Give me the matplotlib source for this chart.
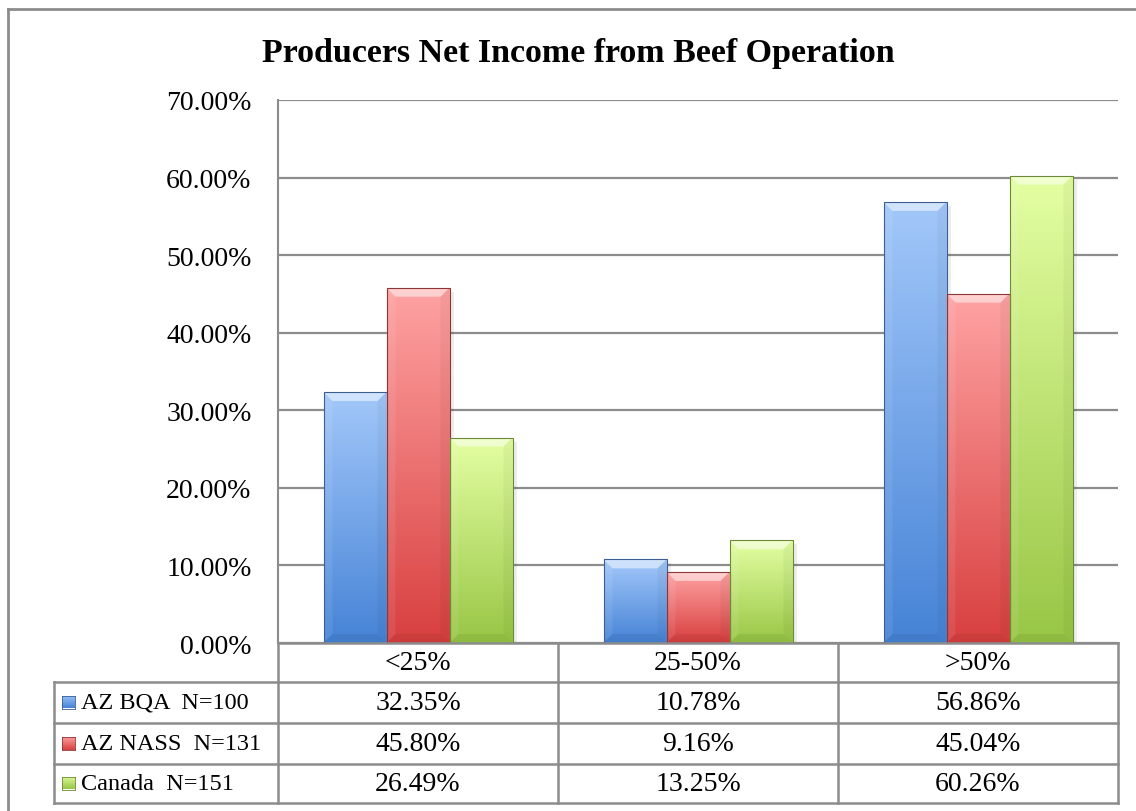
import numpy as np
import matplotlib
matplotlib.use("Agg")
import matplotlib.pyplot as plt
from matplotlib.patches import Rectangle, Polygon
from matplotlib.lines import Line2D
from matplotlib.colors import LinearSegmentedColormap

# data
categories = ["<25%", "25-50%", ">50%"]
series_names = ["AZ BQA  N=100", "AZ NASS  N=131", "Canada  N=151"]
az_bqa = [32.35, 10.78, 56.86]
az_nass = [45.80, 9.16, 45.04]
canada = [26.49, 13.25, 60.26]
yticks = [0, 10, 20, 30, 40, 50, 60, 70]

# (top colour, bottom colour, edge colour)
styles = [
    ("#a3c8fa", "#4683d6", "#3b5f92"),
    ("#ffa3a3", "#d83f3f", "#8e3636"),
    ("#e4ffa3", "#98c645", "#6b8a35"),
]

W, H = 1136, 812
plt.rcParams['font.family'] = ['Liberation Serif', 'DejaVu Serif']
fig = plt.figure(figsize=(W / 100, H / 100), dpi=100)
GRID = "#8c8c8c"
FS = 20


def fx(x):
    return x / W


def fy(y):
    return 1 - y / H


# plot area in pixels
L, R, T, B = 278, 1118, 101, 644
ax = fig.add_axes([fx(L), fy(B), (R - L) / W, (B - T) / H])
ax.set_xlim(-0.5, 2.5)
ax.set_ylim(0, 70)
ax.set_yticks(yticks)
ax.set_yticklabels(["%.2f%%" % v for v in yticks], fontsize=FS)
ax.tick_params(axis='y', length=0, pad=19)
ax.set_xticks([])
for s in ['top', 'right', 'bottom']:
    ax.spines[s].set_visible(False)
ax.spines['left'].set_color(GRID)
ax.spines['left'].set_linewidth(1.5)
ax.yaxis.grid(True, color=GRID, linewidth=1.6)
ax.set_axisbelow(True)

px_x = 3.0 / (R - L)   # data units per pixel (x)
px_y = 70.0 / (B - T)  # data units per pixel (y)

width = 0.225
x = np.arange(len(categories))
all_vals = [az_bqa, az_nass, canada]
for i, (vals, (ctop, cbot, cedge)) in enumerate(zip(all_vals, styles)):
    cmap = LinearSegmentedColormap.from_list("g%d" % i, [cbot, ctop])
    grad = np.linspace(0, 1, 256).reshape(-1, 1)
    bars = ax.bar(x + (i - 1) * width, vals, width, facecolor='none',
                  edgecolor=cedge, linewidth=0.8, zorder=3)
    for b in bars:
        x0, y0 = b.get_x(), b.get_y()
        w, h = b.get_width(), b.get_height()
        # soft shadow to the right
        ax.add_patch(Rectangle((x0 + 4 * px_x, y0), w, h - 4 * px_y, facecolor='#000000',
                               alpha=0.07, edgecolor='none', zorder=2))
        im = ax.imshow(grad, cmap=cmap, origin='lower', aspect='auto',
                       extent=(x0, x0 + w, y0, y0 + h), zorder=2.5)
        im.set_clip_path(b)
        # bevel: light top, faint sides, darker bottom
        bw, bh = 9 * px_x, 9 * px_y
        top = y0 + h
        ax.add_patch(Polygon([(x0, top), (x0 + w, top), (x0 + w - bw, top - bh), (x0 + bw, top - bh)],
                             closed=True, facecolor='white', alpha=0.5, edgecolor='none', zorder=2.6))
        ax.add_patch(Polygon([(x0, top), (x0 + bw, top - bh), (x0 + bw, y0 + bh), (x0, y0)],
                             closed=True, facecolor='white', alpha=0.08, edgecolor='none', zorder=2.6))
        ax.add_patch(Polygon([(x0 + w, top), (x0 + w - bw, top - bh), (x0 + w - bw, y0 + bh), (x0 + w, y0)],
                             closed=True, facecolor='black', alpha=0.04, edgecolor='none', zorder=2.6))
        ax.add_patch(Polygon([(x0, y0), (x0 + w, y0), (x0 + w - bw, y0 + bh), (x0 + bw, y0 + bh)],
                             closed=True, facecolor='black', alpha=0.06, edgecolor='none', zorder=2.6))
ax.set_xlim(-0.5, 2.5)
ax.set_ylim(0, 70)

fig.text(fx(578), fy(62), "Producers Net Income from Beef Operation",
         ha='center', va='baseline', fontsize=24.5, fontweight='bold')

# outer border
fig.add_artist(Line2D([fx(8), fx(8)], [fy(10), fy(812)], color=GRID, linewidth=2))
fig.add_artist(Line2D([fx(8), fx(1136)], [fy(10), fy(10)], color=GRID, linewidth=2))

# data table
cols = [L, 558, 838, R]
rows = [B, 683, 724, 765, 804]
TL = 54


def hline(x0, x1, y):
    fig.add_artist(Line2D([fx(x0), fx(x1)], [fy(y), fy(y)], color=GRID, linewidth=1.8))


def vline(xp, y0, y1):
    fig.add_artist(Line2D([fx(xp), fx(xp)], [fy(y0), fy(y1)], color=GRID, linewidth=1.8))


hline(L, R, rows[0])
for y in rows[1:]:
    hline(TL, R, y)
for xp in cols:
    vline(xp, rows[0], rows[-1])
vline(TL, rows[1], rows[-1])

for j, c in enumerate(categories):
    fig.text(fx((cols[j] + cols[j + 1]) / 2), fy((rows[0] + rows[1]) / 2), c,
             ha='center', va='center', fontsize=FS)

for i, (name, vals) in enumerate(zip(series_names, all_vals)):
    yc = (rows[i + 1] + rows[i + 2]) / 2
    ctop, cbot, cedge = styles[i]
    sq = fig.add_axes([fx(62), fy(yc + 6), 13 / W, 13 / H])
    sq.imshow(np.linspace(0, 1, 32).reshape(-1, 1),
              cmap=LinearSegmentedColormap.from_list("s%d" % i, [cbot, ctop]),
              origin='lower', aspect='auto')
    sq.set_xticks([])
    sq.set_yticks([])
    for s in sq.spines.values():
        s.set_color(cedge)
        s.set_linewidth(0.6)
    fig.text(fx(81), fy(yc), name, ha='left', va='center', fontsize=17.5)
    for j, v in enumerate(vals):
        fig.text(fx((cols[j] + cols[j + 1]) / 2), fy(yc), "%.2f%%" % v,
                 ha='center', va='center', fontsize=FS)

fig.savefig("out.png", dpi=100)
